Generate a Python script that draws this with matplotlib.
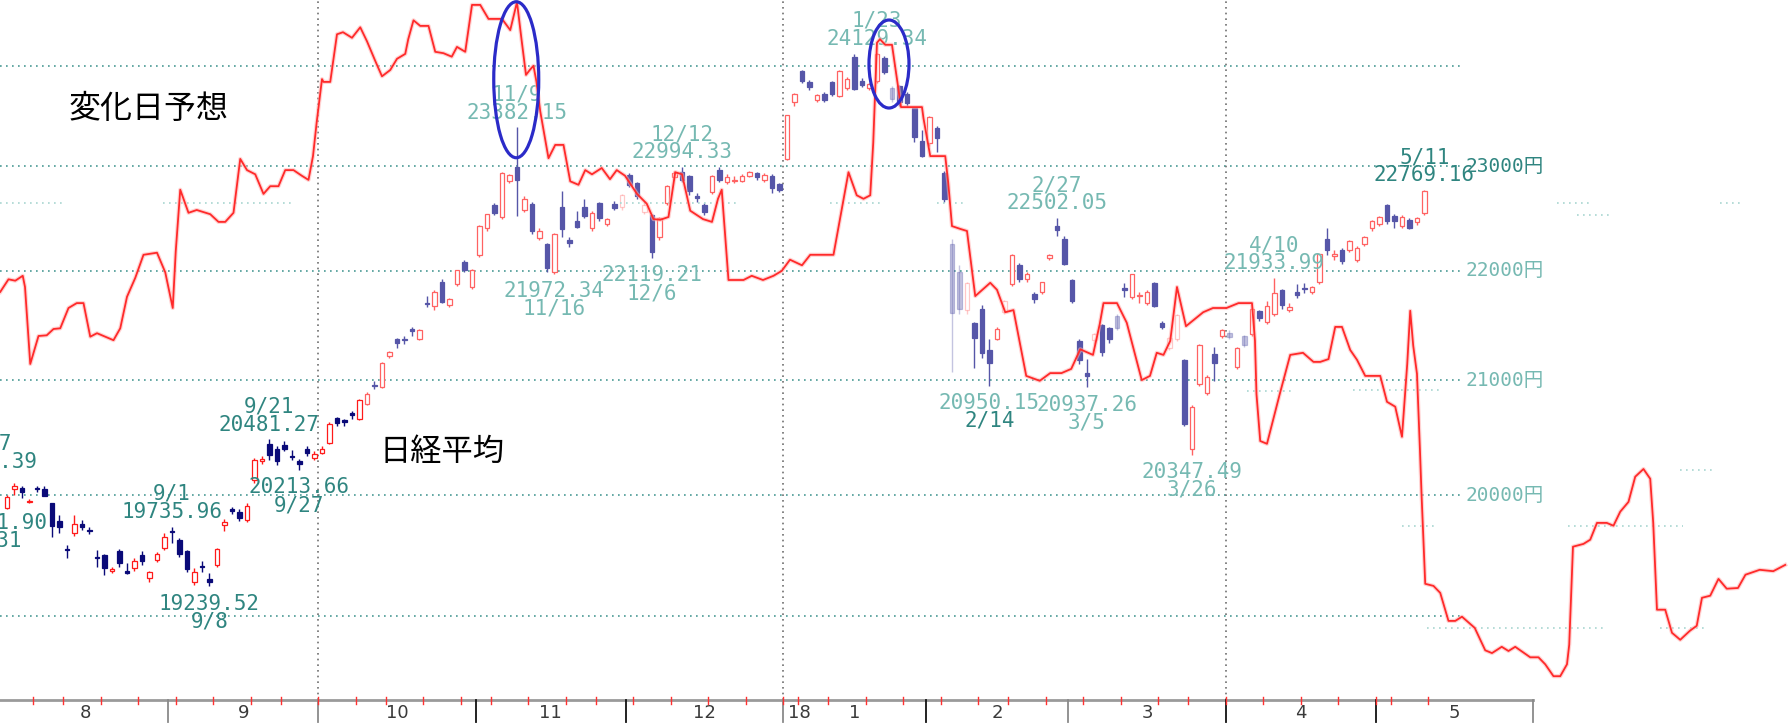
import numpy as np
import pandas as pd
import matplotlib
matplotlib.use("Agg")
import matplotlib.pyplot as plt
from matplotlib.colors import to_rgba
from matplotlib.patches import Ellipse
from matplotlib.transforms import IdentityTransform

# --- 取引日 (東証カレンダー) ---
tse_holidays = ["2017-08-11", "2017-09-18", "2017-10-09", "2017-11-03", "2017-11-23",
                "2018-01-01", "2018-01-02", "2018-01-03", "2018-01-08", "2018-02-12",
                "2018-03-21", "2018-04-30", "2018-05-03", "2018-05-04"]
trade_days = pd.bdate_range("2017-08-01", "2018-05-31", freq="C", holidays=tse_holidays)

# --- 日経平均 日足 (8/1 .. 5/11) ---
opens = [
    19890, 20050, 20062, 19940, 20060, 20050, 19930, 19780, 19545, 19680, 19760, 19710, 19480, 19500, 19370, 19530, 19370, 19390, 19500, 19310, 19460, 19560,
    19700, 19620, 19530, 19280, 19410, 19300, 19420, 19750, 19880, 19860, 19790, 20130, 20290, 20440, 20400, 20430, 20340, 20290, 20400, 20320,
    20360, 20450, 20670, 20650, 20710, 20660, 20790, 20960, 20940, 21220, 21370, 21370, 21460, 21370, 21700, 21670, 21900, 21680, 21880, 22080, 21850,
    22150, 22400, 22620, 22510, 22860, 22990, 22580, 22630, 22310, 22250, 21990, 22600, 22290, 22470, 22600, 22400, 22640, 22440, 22630, 22600,
    22910, 22840, 22560, 22530, 22320, 22640, 22890, 22940, 22900, 22710, 22620, 22750, 22960, 22850, 22860, 22860, 22900, 22930, 22870, 22900, 22830,
    23070, 23640, 23950, 23840, 23660, 23720, 23840, 23700, 23780, 24090, 23850, 23780, 23850, 24080, 23780, 23800, 23720, 23580, 23250,
    23230, 23380, 22930, 22250, 21990, 21640, 21520, 21650, 21270, 21370, 21620, 21880, 22050, 21920, 21780, 21800, 22120, 22420, 22300,
    21910, 21350, 21070, 21360, 21500, 21470, 21580, 21840, 21760, 21770, 21700, 21890, 21520, 21290, 21370, 21180, 20400, 20970, 20890, 21240, 21400,
    21430, 21120, 21400, 21420, 21630, 21530, 21600, 21820, 21640, 21800, 21840, 21800, 21900, 22300, 22140, 22200, 22200, 22100, 22250, 22400,
    22440, 22620, 22520, 22420, 22480, 22460, 22550]
highs = [
    20000, 20105, 20075, 19965, 20080, 20080, 19935, 19830, 19580, 19830, 19790, 19730, 19540, 19510, 19400, 19550, 19430, 19470, 19530, 19370, 19520, 19680,
    19735.96, 19640, 19540, 19390, 19450, 19350, 19560, 19800, 19900, 19880, 19930, 20320, 20340, 20481.27, 20420, 20470, 20390, 20310, 20420, 20380,
    20420, 20630, 20680, 20660, 20730, 20830, 20900, 20990, 21160, 21260, 21380, 21400, 21480, 21460, 21770, 21820, 21920, 21750, 22010, 22100, 22020,
    22430, 22540, 22640, 22940, 22920, 23382.15, 22710, 22650, 22400, 22260, 22360, 22760, 22320, 22570, 22680, 22570, 22650, 22500, 22660, 22730,
    22930, 22850, 22650, 22540, 22510, 22820, 22950, 22994.33, 22910, 22740, 22640, 22910, 22990, 22920, 22900, 22920, 22950, 22940, 22930, 22920, 22840,
    23510, 23730, 23960, 23860, 23720, 23740, 23850, 23960, 23890, 24120, 23880, 23830, 24129.34, 24100, 23800, 23810, 23740, 23590, 23360,
    23500, 23400, 22950, 22300, 22050, 21900, 21530, 21680, 21370, 21480, 21730, 22160, 22070, 21990, 21800, 21900, 22160, 22502.05, 22330,
    21920, 21370, 21190, 21430, 21510, 21480, 21600, 21890, 21970, 21800, 21820, 21900, 21540, 21390, 21600, 21190, 20780, 21330, 21050, 21300, 21460,
    21450, 21300, 21410, 21660, 21640, 21720, 21933.99, 21830, 21700, 21880, 21890, 21860, 22160, 22400, 22200, 22210, 22290, 22230, 22330, 22480,
    22520, 22630, 22540, 22530, 22500, 22510, 22769.16]
lows = [
    19880, 20003, 19980, 19930, 20030, 19990, 19650, 19680, 19470, 19660, 19710, 19670, 19400, 19330, 19350, 19400, 19340, 19370, 19420, 19280, 19440, 19540,
    19600, 19480, 19360, 19250, 19360, 19239.52, 19400, 19700, 19840, 19780, 19770, 20100, 20270, 20300, 20260, 20380, 20300, 20213.66, 20340, 20300,
    20350, 20440, 20600, 20600, 20660, 20650, 20780, 20920, 20930, 21200, 21290, 21330, 21400, 21360, 21660, 21640, 21700, 21660, 21860, 21990, 21830,
    22130, 22380, 22530, 22490, 22840, 22520, 22560, 22350, 22290, 21990, 21972.34, 22320, 22220, 22400, 22500, 22380, 22470, 22420, 22580, 22580,
    22800, 22680, 22540, 22119.21, 22290, 22620, 22870, 22850, 22720, 22650, 22530, 22730, 22850, 22830, 22840, 22850, 22890, 22870, 22850, 22740, 22750,
    23060, 23600, 23830, 23760, 23640, 23640, 23700, 23690, 23760, 23760, 23790, 23760, 23830, 23920, 23640, 23600, 23600, 23240, 23090,
    23200, 23140, 22650, 21078, 21600, 21600, 21110, 21200, 20950.15, 21360, 21600, 21860, 21900, 21900, 21700, 21780, 22100, 22330, 22050,
    21700, 21150, 20937.26, 21330, 21220, 21340, 21450, 21760, 21740, 21700, 21680, 21660, 21460, 21270, 21350, 20600, 20347.49, 20950, 20870, 20990, 21380,
    21370, 21100, 21300, 21400, 21540, 21510, 21580, 21650, 21620, 21750, 21790, 21780, 21880, 22150, 22100, 22060, 22180, 22080, 22230, 22380,
    22420, 22440, 22400, 22400, 22390, 22430, 22530]
closes = [
    19985, 20080, 20029, 19952, 20055, 19996, 19738, 19729, 19537, 19753, 19729, 19702, 19470, 19393, 19383, 19434, 19353, 19452, 19449, 19362, 19506, 19646,
    19691, 19508, 19385, 19357, 19396, 19274, 19545, 19776, 19865, 19807, 19909, 20299, 20310, 20347, 20296, 20397, 20330, 20267, 20363, 20356,
    20400, 20614, 20626, 20628, 20690, 20823, 20881, 20954, 21155, 21255, 21336, 21363, 21448, 21457, 21696, 21805, 21707, 21739, 22008, 22011, 22011,
    22420, 22539, 22548, 22937, 22913, 22868, 22681, 22380, 22380, 22028, 22351, 22396, 22261, 22416, 22523, 22550, 22495, 22486, 22597, 22724,
    22819, 22707, 22622, 22177, 22498, 22811, 22938, 22866, 22758, 22694, 22553, 22901, 22868, 22891, 22866, 22902, 22939, 22892, 22911, 22783, 22764,
    23506, 23714, 23849, 23788, 23710, 23653, 23714, 23951, 23868, 23763, 23808, 23816, 24124, 23940, 23669, 23631, 23629, 23291, 23098,
    23486, 23274, 22682, 21610, 21645, 21890, 21382, 21244, 21154, 21464, 21720, 22149, 21925, 21970, 21736, 21892, 22153, 22389, 22068,
    21724, 21181, 21042, 21417, 21252, 21368, 21469, 21824, 21968, 21777, 21803, 21676, 21480, 21380, 21591, 20617, 20766, 21317, 21031, 21159, 21454,
    21388, 21292, 21319, 21645, 21567, 21678, 21794, 21687, 21660, 21778, 21835, 21847, 22158, 22191, 22162, 22088, 22278, 22215, 22319, 22467,
    22508, 22472, 22467, 22508, 22408, 22497, 22758]
faded = [82, 85, 118, 126, 127, 128, 133, 145, 148, 155, 156, 163, 165]

# 高値・安値の注記
ann_idx = [22, 27, 35, 39, 68, 73, 90, 86, 116, 131, 140, 144, 158, 169, 189]
ann_date = ["9/1", "9/8", "9/21", "9/27", "11/9", "11/16", "12/12", "12/6", "1/23",
            "2/14", "2/27", "3/5", "3/26", "4/10", "5/11"]
ann_value = [19735.96, 19239.52, 20481.27, 20213.66, 23382.15, 21972.34, 22994.33, 22119.21,
             24129.34, 20950.15, 22502.05, 20937.26, 20347.49, 21933.99, 22769.16]
ann_kind = ["H", "L", "H", "L", "H", "L", "H", "L", "H", "L", "H", "L", "L", "H", "H"]
ann_dark = [True, True, True, True, False, False, False, False, False, False, False, False, False, False, True]
# 画面左で切れている注記 (7月分)
cut_idx = [-2.7, -1.3]
cut_date = ["7/27", "7/31"]
cut_value = [20164.39, 19911.90]
cut_kind = ["H", "L"]

grid_prices = [24000, 23000, 22000, 21000, 20000, 19000]
label_prices = [23000, 22000, 21000, 20000]
month_names = ["8", "9", "10", "11", "12", "1", "2", "3", "4", "5"]

# 変化日予想ライン (目盛なしの指数, 0-100)
forecast_x = [-0.9, 0.2, 1.1, 2.1, 2.4, 3.1, 4.2, 5.3, 6.2, 7.1, 8.2, 9.3, 10.2, 11.1, 12.0, 14.2, 15.1, 16.0, 17.1, 18.2,
              20.0, 21.1, 22.1, 22.5, 23.1, 24.2, 25.3, 27.1, 28.2, 29.1, 30.2, 31.1, 32.0, 33.1, 34.2, 35.1, 36.2, 37.1, 38.2, 39.3,
              40.2, 40.8, 41.3, 42.0, 42.2, 43.1, 44.0, 44.8, 46.0, 47.1, 48.0, 49.1, 50.0, 51.1, 52.0, 53.1, 53.5, 54.2, 55.1, 56.2,
              57.1, 58.2, 59.3, 60.0,
              61.1, 62.0, 63.1, 64.2, 66.0, 67.1, 68.0, 68.6, 69.2, 69.7, 70.2, 70.6, 71.1, 72.2, 73.1, 74.2, 75.1, 76.2, 77.1, 78.0,
              79.3, 80.4, 81.3, 82.4, 84.0, 85.3, 86.2, 87.1, 88.2, 89.1, 90.0, 91.1, 92.8, 94.0, 94.8, 95.3, 96.2, 98.2, 99.3, 100.8,
              102.2, 103.3, 104.4, 106.0, 107.1, 110.2, 112.2, 113.3, 114.2, 115.1, 115.5, 116.0, 116.4, 117.1, 118.0,
              118.4, 118.8, 119.2, 122.0, 122.2, 123.1, 125.1, 125.5, 126.0, 127.1, 128.0, 129.1, 131.1, 132.0, 133.1, 134.2, 135.9,
              137.7, 139.1, 140.6, 141.9, 143.1, 144.8, 145.7, 146.2, 148.0, 149.3, 151.3, 152.4, 153.3, 154.2, 155.1, 156.0, 157.2,
              159.5, 160.8, 162.6, 164.2, 166.0, 166.4, 166.6, 167.1, 168.0, 169.7, 171.1, 172.8, 174.2,
              175.1, 176.2, 177.1, 178.0, 179.1, 180.0, 181.1, 183.1, 184.0, 185.1, 186.0, 186.7, 187.1, 187.5, 188.0, 188.4, 188.6,
              189.1, 190.2, 191.1, 192.2, 193.1, 194.0, 195.7, 197.1, 198.0, 199.3, 200.2, 201.1, 203.1, 204.2, 205.1, 206.2, 207.1,
              208.0, 208.3, 208.8, 210.2, 211.1, 212.0, 213.3, 214.2, 215.1, 216.2, 217.1, 218.2, 219.1, 219.5, 220.0, 221.1, 222.0,
              223.1, 224.4, 225.3, 226.0, 227.1, 228.2, 229.3, 230.8, 231.8, 233.7, 235.5, 237.1]
forecast_v = [58.3, 60.1, 59.9, 60.6, 59.0, 48.0, 52.0, 52.1, 53.0, 53.1, 56.0, 56.7, 56.7, 51.9, 52.4, 51.4, 53.1, 57.6, 60.3, 63.6,
              63.9, 61.1, 56.0, 64.1, 72.9, 69.6, 70.0, 69.4, 68.3, 68.3, 69.6, 77.3, 75.7, 75.1, 72.3, 73.4, 73.4, 75.7, 75.7, 74.9,
              74.3, 77.7, 82.6, 88.7, 88.3, 88.3, 95.1, 95.4, 94.6, 96.1, 94.1, 91.3, 89.1, 90.0, 91.6, 92.3, 94.4, 97.1, 96.3, 96.3,
              92.6, 92.4, 91.9, 93.3,
              92.6, 99.3, 99.3, 97.3, 97.3, 95.7, 99.7, 94.4, 89.3, 90.0, 90.6, 88.3, 84.1, 77.4, 79.3, 79.3, 74.1, 73.6, 75.7, 75.1,
              76.0, 74.4, 75.7, 74.9, 72.3, 70.9, 68.7, 68.6, 69.0, 75.4, 75.1, 69.9, 68.7, 68.3, 71.6, 72.9, 60.0, 60.0, 60.6, 60.0,
              60.6, 61.3, 62.9, 62.1, 63.6, 63.6, 75.4, 72.1, 71.6, 72.1, 79.6, 93.9, 94.4, 93.6, 93.6,
              90.7, 87.7, 84.7, 84.7, 83.1, 77.7, 77.7, 73.9, 67.7, 67.3, 67.0, 57.7, 59.6, 58.6, 55.4, 55.7, 46.3,
              45.6, 46.7, 46.7, 47.3, 50.1, 49.3, 53.7, 56.7, 56.7, 53.9, 45.7, 46.3, 49.6, 49.3, 51.3, 59.0, 53.4,
              55.4, 56.0, 56.0, 56.7, 56.7, 51.3, 43.7, 37.0, 36.6, 43.7, 49.3, 49.6, 48.3,
              48.3, 48.7, 53.3, 53.3, 50.0, 48.6, 46.3, 46.3, 42.6, 41.9, 37.6, 48.0, 55.6, 50.6, 46.6, 35.6, 29.6,
              16.6, 16.3, 15.3, 11.3, 11.3, 11.9, 10.3, 7.1, 6.7, 7.6, 7.0, 7.6, 6.1, 6.1, 5.1, 3.4, 3.4,
              5.1, 7.9, 21.9, 22.3, 22.9, 25.3, 25.3, 24.9, 26.9, 28.3, 31.9, 33.0, 31.6, 25.3, 12.9, 12.9, 9.6,
              8.6, 9.9, 10.6, 14.6, 14.9, 17.3, 15.9, 16.0, 17.9, 18.6, 18.4, 19.3]

# 背景に残る薄い点線 (重ね合わせた画像の名残)
ghost_x0 = [-0.9, 20.8, 81.7, 109.7, 124.0, 206.7, 228.4, 209.3, 165.3, 179.5, 186.0, 208.1, 189.3, 220.4, 223.1]
ghost_x1 = [7.5, 38.1, 97.7, 116.4, 127.5, 211.1, 231.3, 214.1, 171.5, 191.1, 190.7, 223.5, 212.8, 226.7, 227.5]
ghost_v = [71.0, 71.0, 71.0, 71.0, 71.0, 71.0, 71.0, 69.3, 44.1, 44.3, 24.9, 24.9, 10.3, 10.3, 32.9]

# --- 描画 ---
DARK_TEAL = "#2f8580"
LIGHT_TEAL = "#76b9b2"
MONO = "DejaVu Sans Mono"
JP = ["Noto Sans CJK JP", "DejaVu Sans"]

fig = plt.figure(figsize=(17.88, 7.28), dpi=100, facecolor="white")
ax = fig.add_axes([0, 28 / 728, 1, 700 / 728])
ax.set_yscale("log")
XLIM = (-0.933, 237.47)
YLIM = (18334, 24682)

n = len(closes)
x = np.arange(n)
o = np.array(opens, float)
h = np.array(highs, float)
l = np.array(lows, float)
c = np.array(closes, float)
up = c >= o

face, edge = [], []
for i in range(n):
    a = 0.35 if i in faded else 1.0
    if up[i]:
        col = "#ff1a1a" if i < 48 else "#ff6262"
        face.append(to_rgba("white"))
    else:
        col = "#0a0a78" if i < 48 else "#5656a8"
        face.append(to_rgba(col, a))
    edge.append(to_rgba(col, a))

# 横の点線グリッド
grid_end = 194.1
for p in grid_prices:
    ax.plot([XLIM[0], grid_end], [p, p], color="#4a9a95", lw=1.2, ls=(0, (1, 2.6)), zorder=1)

# 縦の点線 (9|10, 12|1, 3|4)
month_of = trade_days.month.values
bounds = [j - 0.5 for j in range(1, len(trade_days)) if month_of[j] != month_of[j - 1]]
for b in [bounds[1], bounds[4], bounds[7]]:
    ax.plot([b, b], [0, 1], transform=ax.get_xaxis_transform(), color="#707070",
            lw=1.2, ls=(0, (1, 2.4)), zorder=1)

# ローソク足
ax.vlines(x, l, h, colors=edge, lw=1.0, zorder=2)
ax.bar(x, np.maximum(np.abs(c - o), 8), bottom=np.minimum(o, c), width=0.62,
       color=face, edgecolor=edge, linewidth=0.9, zorder=3)

# 高値・安値ラベル
def put_label(i, date, value, kind, col_v, col_d):
    if kind == "H":
        offs = (10.4, 23.5)
    else:
        offs = (-12.4, -25.2)
    ax.annotate(f"{value:.2f}", xy=(i, value), xytext=(0, offs[0]), textcoords="offset points",
                ha="center", va="center", color=col_v, fontsize=15, family=MONO,
                annotation_clip=False, zorder=5)
    ax.annotate(date, xy=(i, value), xytext=(0, offs[1]), textcoords="offset points",
                ha="center", va="center", color=col_d, fontsize=15, family=MONO,
                annotation_clip=False, zorder=5)

for k in range(len(ann_idx)):
    cv = DARK_TEAL if ann_dark[k] else LIGHT_TEAL
    cd = DARK_TEAL if (ann_dark[k] or ann_date[k] == "2/14") else LIGHT_TEAL
    put_label(ann_idx[k], ann_date[k], ann_value[k], ann_kind[k], cv, cd)
for k in range(len(cut_idx)):
    put_label(cut_idx[k], cut_date[k], cut_value[k], cut_kind[k], DARK_TEAL, DARK_TEAL)

# 右側の価格ラベル
for p in label_prices:
    ax.text(194.5, p, f"{p}円", ha="left", va="center", fontsize=14,
            family=[MONO, "Noto Sans CJK JP"],
            color=DARK_TEAL if p == 23000 else LIGHT_TEAL, zorder=5)

# 時間軸
xt = ax.get_xaxis_transform()
ax.plot([XLIM[0], bounds[-1] + 21], [0, 0], transform=xt, color="#9a9a9a", lw=2.0,
        clip_on=False, zorder=4)
sep_colors = ["#8a8a8a", "#8a8a8a", "#111111", "#111111", "#8a8a8a",
              "#111111", "#8a8a8a", "#111111", "#111111", "#8a8a8a"]
ends = bounds + [bounds[-1] + 21]
for b, sc in zip(ends, sep_colors):
    ax.plot([b, b], [0, -0.032], transform=xt, color=sc, lw=1.3, clip_on=False, zorder=4)
starts = [-0.5] + bounds
for m, (s, e) in enumerate(zip(starts, ends)):
    ax.text((s + e) / 2, -0.018, month_names[m], transform=xt, ha="center", va="center",
            fontsize=13, color="#3a3a3a", clip_on=False)
ax.text(bounds[4] + 0.6, -0.018, "18", transform=xt, ha="left", va="center",
        fontsize=13, color="#3a3a3a", clip_on=False)
wk = trade_days.isocalendar().week.values
for j in range(1, n + 1):
    if wk[j] != wk[j - 1]:
        ax.plot([j - 0.5, j - 0.5], [0.005, -0.006], transform=xt, color="#ff3030",
                lw=1.0, clip_on=False, zorder=5)

# タイトル的な文字
ax.text(0.0833, 0.844, "変化日予想", transform=ax.transAxes, ha="center", va="center",
        fontsize=23, family=JP, color="black", zorder=6)
ax.text(0.2472, 0.354, "日経平均", transform=ax.transAxes, ha="center", va="center",
        fontsize=22.5, family=JP, color="black", zorder=6)

ax.set_xlim(*XLIM)
ax.set_ylim(*YLIM)
ax.set_axis_off()

# 変化日予想ライン
ax2 = ax.twinx()
for a0, a1, gv in zip(ghost_x0, ghost_x1, ghost_v):
    ax2.plot([a0, a1], [gv, gv], color="#a9d6d1", lw=1.2, ls=(0, (1, 2.6)), zorder=1)
ax2.plot(forecast_x, forecast_v, color="#ffb0b0", lw=3.0, alpha=0.55, zorder=2)
ax2.plot(forecast_x, forecast_v, color="#ff2a2a", lw=1.3, zorder=3)
ax2.set_xlim(*XLIM)
ax2.set_ylim(0, 100)
ax2.set_axis_off()

# 青い楕円 (11/9 と 1/23 の天井)
for ex, ey, ew, eh in [(67.9, 23860, 45, 156), (117.6, 24020, 40, 88)]:
    cx, cy = ax.transData.transform((ex, ey))
    ax2.add_patch(Ellipse((cx, cy), ew, eh, transform=IdentityTransform(), fill=False,
                          ec="#2b2bc8", lw=2.3, zorder=7))

fig.savefig("out.png", dpi=100, facecolor="white")
